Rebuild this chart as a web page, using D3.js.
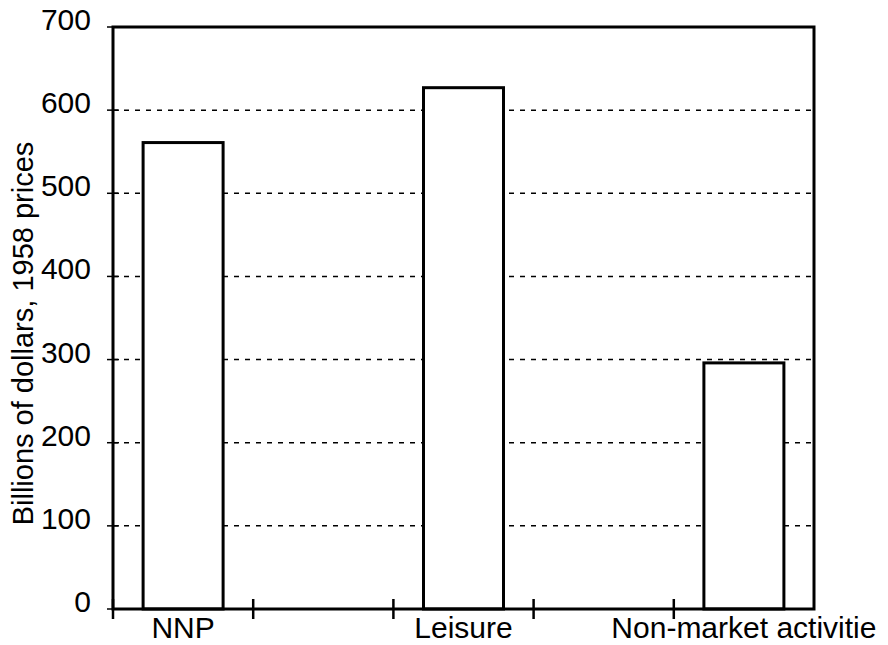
<!DOCTYPE html>
<html>
<head>
<meta charset="utf-8">
<script src="https://cdn.jsdelivr.net/npm/d3@7"></script>
<style>
  html, body { margin: 0; padding: 0; background: #fff; }
  svg { display: block; font-family: "Liberation Sans", Arial, sans-serif; }
</style>
</head>
<body>
<svg id="chart" width="888" height="645"></svg>
<script>
// ---- data ----
const slots = ["NNP", "gap1", "Leisure", "gap2", "Non-market activitie"];
const categories = ["NNP", "Leisure", "Non-market activitie"];
const values = [561, 627, 296];
const yTicks = [0, 100, 200, 300, 400, 500, 600, 700];
const yTitle = "Billions of dollars, 1958 prices";

// ---- layout ----
const W = 888, H = 645;
const margin = { top: 27, right: 74, bottom: 36, left: 113 };
const iw = W - margin.left - margin.right;
const ih = H - margin.top - margin.bottom;

const svg = d3.select("#chart");
const g = svg.append("g").attr("transform", `translate(${margin.left},${margin.top})`);

const x = d3.scaleBand().domain(slots).range([0, iw]).paddingInner(0).paddingOuter(0);
const y = d3.scaleLinear().domain([0, 700]).range([ih, 0]);

// gridlines (dashed)
g.append("g").selectAll("line")
  .data(yTicks.filter(d => d > 0 && d < 700))
  .join("line")
  .attr("x1", 0).attr("x2", iw)
  .attr("y1", d => y(d)).attr("y2", d => y(d))
  .attr("stroke", "#000").attr("stroke-width", 1.5)
  .attr("stroke-dasharray", "5,6");

// y-axis tick marks (crossing axis)
g.append("g").selectAll("line")
  .data(yTicks)
  .join("line")
  .attr("x1", -6).attr("x2", 6)
  .attr("y1", d => y(d)).attr("y2", d => y(d))
  .attr("stroke", "#000").attr("stroke-width", 1.5);

// y tick labels
g.append("g").selectAll("text")
  .data(yTicks)
  .join("text")
  .attr("x", 91 - margin.left)
  .attr("y", d => y(d) + 3)
  .attr("text-anchor", "end")
  .attr("font-size", 30)
  .attr("fill", "#000")
  .text(d => d);

// bars
const bw = 80;
g.append("g").selectAll("rect")
  .data(categories.map((c, i) => ({ c, v: values[i] })))
  .join("rect")
  .attr("x", d => x(d.c) + x.bandwidth() / 2 - bw / 2)
  .attr("width", bw)
  .attr("y", d => y(d.v))
  .attr("height", d => y(0) - y(d.v))
  .attr("fill", "#fff")
  .attr("stroke", "#000")
  .attr("stroke-width", 3);

// plot frame
g.append("rect")
  .attr("x", 0).attr("y", 0).attr("width", iw).attr("height", ih)
  .attr("fill", "none").attr("stroke", "#000").attr("stroke-width", 3);

// x tick marks at band boundaries (crossing axis)
g.append("g").selectAll("line")
  .data(slots)
  .join("line")
  .attr("x1", d => x(d)).attr("x2", d => x(d))
  .attr("y1", ih - 10).attr("y2", ih + 10)
  .attr("stroke", "#000").attr("stroke-width", 2.5);

// category labels
g.append("g").selectAll("text")
  .data(categories)
  .join("text")
  .attr("x", d => x(d) + x.bandwidth() / 2)
  .attr("y", ih + 29)
  .attr("text-anchor", "middle")
  .attr("font-size", 30)
  .attr("fill", "#000")
  .text(d => d);

// y-axis title
svg.append("text")
  .attr("transform", `translate(33,${(140 + 527) / 2}) rotate(-90)`)
  .attr("text-anchor", "middle")
  .attr("font-size", 29)
  .attr("fill", "#000")
  .text(yTitle);
</script>
</body>
</html>
